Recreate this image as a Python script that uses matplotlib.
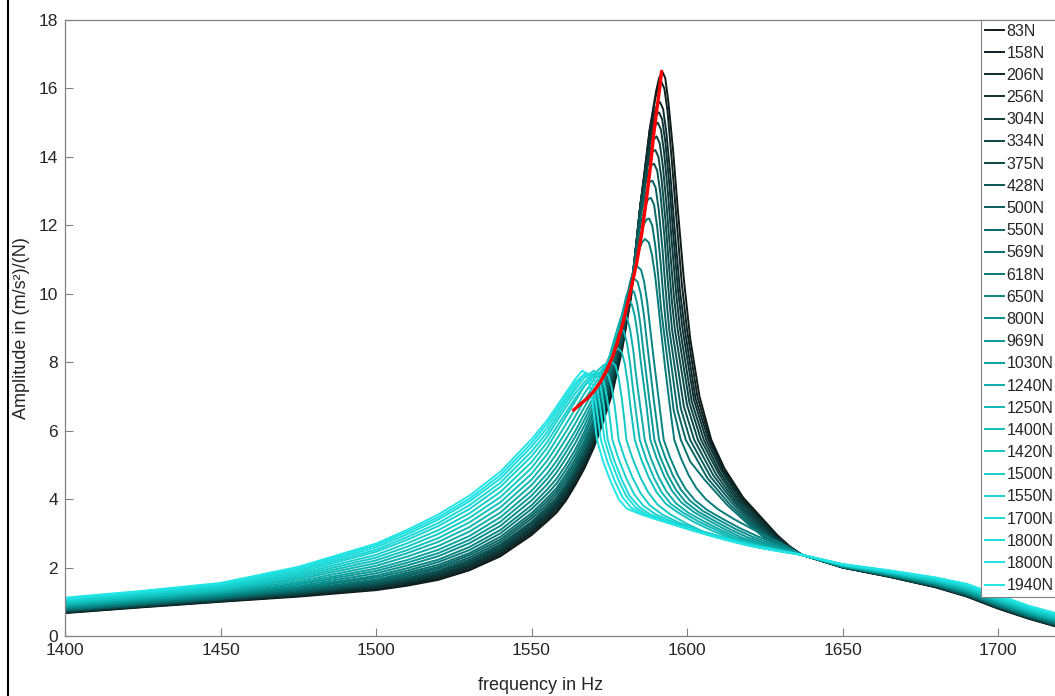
import matplotlib
matplotlib.use('Agg')
import matplotlib.pyplot as plt
from matplotlib.colors import LinearSegmentedColormap
from matplotlib.lines import Line2D

plt.rcParams['font.family'] = ['Liberation Sans', 'DejaVu Sans']

# legend labels (excitation force)
forces = ['83N', '158N', '206N', '256N', '304N', '334N', '375N', '428N', '500N',
          '550N', '569N', '618N', '650N', '800N', '969N', '1030N', '1240N', '1250N',
          '1400N', '1420N', '1500N', '1550N', '1700N', '1800N', '1800N', '1940N']

# low frequency part, shared grid
freq_low = [1400, 1425, 1450, 1475, 1500, 1510, 1520, 1530, 1540, 1550]
amp_low = [
    [0.67, 0.84, 1.00, 1.15, 1.34, 1.47, 1.64, 1.92, 2.33, 2.95],
    [0.68, 0.85, 1.01, 1.17, 1.37, 1.50, 1.68, 1.96, 2.38, 3.01],
    [0.69, 0.86, 1.02, 1.18, 1.39, 1.53, 1.72, 2.01, 2.43, 3.06],
    [0.70, 0.87, 1.03, 1.20, 1.42, 1.57, 1.76, 2.05, 2.48, 3.12],
    [0.71, 0.88, 1.04, 1.22, 1.45, 1.60, 1.79, 2.09, 2.53, 3.17],
    [0.72, 0.89, 1.06, 1.24, 1.48, 1.63, 1.83, 2.14, 2.58, 3.23],
    [0.72, 0.90, 1.07, 1.25, 1.50, 1.67, 1.87, 2.18, 2.63, 3.29],
    [0.73, 0.91, 1.08, 1.27, 1.53, 1.70, 1.91, 2.23, 2.68, 3.34],
    [0.75, 0.92, 1.09, 1.30, 1.57, 1.75, 1.97, 2.29, 2.75, 3.43],
    [0.76, 0.94, 1.11, 1.32, 1.61, 1.80, 2.02, 2.36, 2.82, 3.51],
    [0.77, 0.95, 1.13, 1.35, 1.65, 1.85, 2.08, 2.42, 2.90, 3.59],
    [0.79, 0.97, 1.15, 1.39, 1.71, 1.91, 2.16, 2.51, 3.00, 3.71],
    [0.81, 0.99, 1.17, 1.42, 1.76, 1.98, 2.23, 2.60, 3.10, 3.82],
    [0.83, 1.01, 1.20, 1.46, 1.83, 2.06, 2.33, 2.71, 3.22, 3.96],
    [0.86, 1.04, 1.23, 1.51, 1.90, 2.14, 2.42, 2.81, 3.34, 4.10],
    [0.88, 1.06, 1.25, 1.55, 1.97, 2.22, 2.52, 2.92, 3.47, 4.24],
    [0.90, 1.09, 1.29, 1.60, 2.05, 2.32, 2.63, 3.05, 3.61, 4.41],
    [0.93, 1.12, 1.32, 1.66, 2.13, 2.42, 2.75, 3.18, 3.76, 4.57],
    [0.96, 1.15, 1.35, 1.71, 2.21, 2.51, 2.86, 3.32, 3.91, 4.74],
    [0.99, 1.18, 1.39, 1.76, 2.29, 2.61, 2.98, 3.45, 4.06, 4.91],
    [1.01, 1.21, 1.42, 1.81, 2.37, 2.71, 3.09, 3.58, 4.21, 5.08],
    [1.04, 1.23, 1.45, 1.86, 2.46, 2.81, 3.21, 3.71, 4.36, 5.25],
    [1.06, 1.26, 1.48, 1.91, 2.52, 2.89, 3.30, 3.82, 4.48, 5.39],
    [1.08, 1.28, 1.51, 1.95, 2.59, 2.97, 3.40, 3.93, 4.60, 5.53],
    [1.10, 1.30, 1.53, 1.99, 2.65, 3.04, 3.47, 4.01, 4.70, 5.64],
    [1.12, 1.32, 1.55, 2.02, 2.70, 3.10, 3.55, 4.10, 4.80, 5.75],
]

# rising flank, shared grid (each curve stops before its peak)
freq_asc = [1555, 1558, 1561, 1564, 1567, 1570, 1573, 1576, 1579, 1582]
amp_asc = [
    [3.35, 3.60, 3.95, 4.40, 4.90, 5.50, 6.25, 7.10, 8.30, 9.90],
    [3.41, 3.66, 4.02, 4.47, 4.97, 5.57, 6.32, 7.18, 8.37, 9.94],
    [3.47, 3.73, 4.08, 4.53, 5.04, 5.65, 6.40, 7.26, 8.43, 9.97],
    [3.53, 3.79, 4.15, 4.60, 5.11, 5.72, 6.47, 7.33, 8.50, 10.01],
    [3.59, 3.85, 4.22, 4.67, 5.18, 5.80, 6.55, 7.41, 8.57, 10.05],
    [3.65, 3.91, 4.28, 4.73, 5.25, 5.87, 6.62, 7.49, 8.63, 10.09],
    [3.71, 3.98, 4.35, 4.80, 5.32, 5.94, 6.69, 7.57, 8.70, 10.12],
    [3.77, 4.04, 4.42, 4.87, 5.39, 6.02, 6.77, 7.65, 8.77, 10.16],
    [3.85, 4.14, 4.52, 4.97, 5.50, 6.13, 6.88, 7.76, 8.87, 10.22],
    [3.94, 4.23, 4.62, 5.07, 5.60, 6.24, 6.99, 7.88, 8.97, 10.27],
    [4.03, 4.32, 4.72, 5.17, 5.71, 6.35, 7.10, 7.99, 9.07, 10.33],
    [4.15, 4.45, 4.85, 5.30, 5.85, 6.50, 7.25, 8.15, 9.20, 10.40],
    [4.28, 4.59, 4.99, 5.44, 5.98, 6.61, 7.31, 8.25, 9.30, 10.45],
    [4.43, 4.77, 5.18, 5.63, 6.15, 6.74, 7.39, 8.30, 9.35, 10.30],
    [4.59, 4.94, 5.36, 5.81, 6.32, 6.87, 7.46, 8.35, 9.35],
    [4.74, 5.11, 5.53, 5.98, 6.49, 7.00, 7.54, 8.40, 9.30],
    [4.93, 5.32, 5.75, 6.20, 6.69, 7.17, 7.63, 8.40],
    [5.12, 5.53, 5.96, 6.41, 6.89, 7.33, 7.72],
    [5.31, 5.74, 6.18, 6.63, 7.09, 7.49, 7.81],
    [5.50, 5.95, 6.40, 6.85, 7.30, 7.65, 7.90],
    [5.66, 6.10, 6.52, 6.94, 7.32, 7.58],
    [5.82, 6.26, 6.68, 7.08, 7.42],
    [5.95, 6.38, 6.80, 7.20, 7.55],
    [6.08, 6.50, 6.90, 7.30],
    [6.20, 6.60, 7.00, 7.40],
    [6.30, 6.70, 7.10, 7.50],
]

# peak and falling flank, per curve
top_f = [
    [1585, 1588, 1590, 1591, 1592, 1593, 1594, 1595.5, 1597, 1599, 1601, 1604, 1607.8, 1612, 1618, 1624, 1629, 1633],
    [1585, 1588, 1590, 1591, 1591.7, 1592.7, 1593.7, 1595, 1596.5, 1598.3, 1600, 1603.3, 1607.4, 1611.7, 1617.7, 1623.7, 1628.8, 1633],
    [1585, 1588, 1589.5, 1590.5, 1591.3, 1592.3, 1593.3, 1594.6, 1596, 1597.7, 1599.3, 1602.7, 1606.9, 1611.4, 1617.4, 1623.4, 1628.6, 1633],
    [1585, 1588, 1589.5, 1590.3, 1591, 1592, 1593, 1594.3, 1595.6, 1597.1, 1598.6, 1602.2, 1606.2, 1611, 1617, 1623, 1628.4, 1633],
    [1585, 1588, 1589.5, 1590.6, 1591.6, 1592.6, 1593.9, 1595.1, 1596.5, 1597.8, 1601.5, 1605.4, 1610.5, 1616.5, 1622.5, 1628, 1633],
    [1585, 1588, 1589.2, 1590.2, 1591.2, 1592.2, 1593.5, 1594.6, 1595.8, 1597, 1600.8, 1604.5, 1610, 1616, 1622, 1627.6, 1633],
    [1585, 1587.5, 1588.8, 1589.8, 1590.8, 1591.8, 1593.1, 1594.1, 1595.1, 1596.1, 1600, 1603.5, 1609.2, 1615.5, 1621.5, 1627.2, 1633],
    [1585, 1587.3, 1588.4, 1589.4, 1590.4, 1591.4, 1592.7, 1593.5, 1594.4, 1595.2, 1599, 1602.3, 1608.4, 1615, 1621, 1626.8, 1633],
    [1585, 1587, 1588, 1588.9, 1589.9, 1590.9, 1592.1, 1592.9, 1593.6, 1594.3, 1598, 1601, 1607.5, 1614.3, 1620.5, 1626.4, 1633],
    [1585, 1586.5, 1587.5, 1588.4, 1589.4, 1590.4, 1591.5, 1592.3, 1592.9, 1593.4, 1596.9, 1599.6, 1606.5, 1613.6, 1620, 1626, 1633],
    [1585, 1586.2, 1587, 1587.8, 1588.8, 1589.8, 1590.8, 1591.6, 1592.5, 1595.7, 1598, 1601, 1605.5, 1613, 1619.5, 1625.5, 1633],
    [1584, 1585.5, 1586.5, 1587.7, 1588.7, 1589.7, 1590.5, 1591.6, 1593, 1594.7, 1595.9, 1598, 1600.5, 1603, 1606, 1610, 1615, 1620.5, 1626, 1631],
    [1583.2, 1584, 1585.2, 1586.2, 1587.2, 1588, 1589.2, 1590.7, 1592.5, 1594.5, 1597, 1599.5, 1602.5, 1606.5, 1611.5, 1617, 1622.5, 1628, 1633],
    [1582.9, 1584.1, 1585.1, 1586.1, 1586.9, 1588, 1589.3, 1591, 1593, 1595.5, 1598, 1601, 1605, 1610, 1615.5, 1621, 1627, 1632],
    [1580.5, 1581.8, 1583, 1584, 1585, 1585.8, 1586.8, 1588, 1589.5, 1591.5, 1594, 1596.5, 1599.5, 1603.5, 1608.5, 1614, 1619.5, 1626, 1632],
    [1580, 1581, 1582.2, 1583.2, 1584.2, 1585, 1586, 1587, 1588.2, 1590.2, 1592.7, 1595.2, 1598.2, 1602.2, 1607, 1612.5, 1618, 1625, 1631],
    [1577.5, 1578.5, 1579.5, 1580.7, 1581.7, 1582.7, 1583.5, 1584.5, 1585.5, 1586.4, 1588.4, 1590.9, 1593.4, 1596.4, 1600.4, 1605.4, 1611, 1617, 1624, 1630],
    [1575, 1576.5, 1577.5, 1578.5, 1579.7, 1580.7, 1581.7, 1582.5, 1583.5, 1584.8, 1586.8, 1589.3, 1591.8, 1594.8, 1598.8, 1603.8, 1609.8, 1616, 1623, 1630],
    [1575, 1576.5, 1577.8, 1579, 1580, 1581, 1581.8, 1583.2, 1585.2, 1587.7, 1590.2, 1593.2, 1597.2, 1602.2, 1608.2, 1615, 1622, 1630],
    [1574.5, 1575.8, 1577, 1578, 1579, 1579.8, 1580.5, 1582.5, 1585, 1587.5, 1590.5, 1594.5, 1599.5, 1605, 1611, 1617, 1623, 1628, 1632],
    [1572, 1573.5, 1574.7, 1575.7, 1576.7, 1577.4, 1578, 1580, 1582.5, 1585, 1588, 1592, 1597, 1603, 1609, 1615, 1621, 1626, 1631],
    [1569.5, 1571.5, 1572.7, 1573.7, 1574.7, 1575.4, 1576, 1578, 1580.5, 1583, 1586, 1590, 1595, 1600, 1606, 1612, 1618, 1624, 1630],
    [1570, 1571.2, 1572.2, 1573.2, 1573.9, 1574.5, 1576.5, 1579, 1581.5, 1584.5, 1588, 1593, 1598, 1603, 1608, 1613, 1619, 1625, 1630],
    [1566.5, 1568.8, 1570, 1571, 1572, 1572.8, 1573.5, 1575.5, 1578, 1580.5, 1583.5, 1587, 1592, 1597, 1602, 1607, 1612, 1618, 1624, 1630],
    [1567.5, 1568.7, 1569.7, 1570.7, 1571.5, 1572.3, 1574.3, 1576.8, 1579.3, 1582, 1586, 1590, 1595, 1600, 1605, 1610, 1615, 1620, 1625, 1630],
    [1566.3, 1567.5, 1568.5, 1569.5, 1570.3, 1571, 1573, 1575.5, 1578, 1580.6, 1585, 1590, 1595, 1600, 1605, 1610, 1615, 1620, 1625, 1630],
]
top_a = [
    [12.5, 14.8, 15.9, 16.3, 16.5, 16.3, 15.6, 14.2, 12.5, 10.4, 8.7, 7.0, 5.73, 4.9, 4.05, 3.45, 2.95, 2.62],
    [12.6, 14.8, 15.8, 16.1, 16.2, 16.0, 15.35, 14.0, 12.3, 10.3, 8.94, 7.0, 5.73, 4.88, 4.03, 3.44, 2.94, 2.61],
    [12.6, 14.65, 15.3, 15.55, 15.6, 15.4, 14.75, 13.5, 11.9, 10.1, 8.94, 6.95, 5.73, 4.86, 4.02, 3.43, 2.93, 2.6],
    [12.6, 14.5, 15.1, 15.25, 15.3, 15.1, 14.45, 13.2, 11.7, 10.1, 8.94, 6.9, 5.73, 4.84, 4.0, 3.42, 2.92, 2.6],
    [12.6, 14.35, 14.9, 15.0, 14.8, 14.15, 12.9, 11.5, 10.0, 8.94, 6.85, 5.73, 4.8, 3.98, 3.4, 2.91, 2.59],
    [12.6, 14.15, 14.5, 14.6, 14.4, 13.75, 12.5, 11.2, 9.9, 8.94, 6.8, 5.73, 4.77, 3.96, 3.38, 2.9, 2.58],
    [12.5, 13.8, 14.15, 14.2, 14.0, 13.35, 12.1, 10.9, 9.8, 8.94, 6.75, 5.73, 4.74, 3.94, 3.36, 2.89, 2.57],
    [12.4, 13.5, 13.75, 13.8, 13.6, 12.95, 11.7, 10.7, 9.7, 8.94, 6.7, 5.73, 4.7, 3.92, 3.34, 2.87, 2.56],
    [12.25, 13.05, 13.27, 13.3, 13.1, 12.45, 11.3, 10.35, 9.6, 8.94, 6.65, 5.73, 4.66, 3.9, 3.32, 2.86, 2.55],
    [12.0, 12.55, 12.77, 12.8, 12.6, 11.95, 10.9, 10.0, 9.4, 8.94, 6.6, 5.73, 4.62, 3.86, 3.3, 2.84, 2.54],
    [11.7, 12.05, 12.17, 12.2, 12.0, 11.4, 10.45, 9.6, 8.94, 6.6, 5.73, 5.1, 4.58, 3.82, 3.28, 2.82, 2.53],
    [11.15, 11.5, 11.6, 11.5, 11.15, 10.55, 9.9, 8.95, 7.8, 6.55, 5.73, 5.2, 4.7, 4.32, 4.0, 3.7, 3.42, 3.15, 2.9, 2.67],
    [10.72, 10.8, 10.7, 10.35, 9.75, 9.1, 8.15, 7.05, 5.73, 5.22, 4.7, 4.3, 3.97, 3.68, 3.42, 3.15, 2.92, 2.72, 2.56],
    [10.45, 10.35, 10.0, 9.4, 8.75, 7.9, 6.9, 5.73, 5.21, 4.68, 4.28, 3.95, 3.66, 3.4, 3.13, 2.9, 2.7, 2.55],
    [9.95, 10.15, 10.05, 9.7, 9.1, 8.45, 7.7, 6.8, 5.73, 5.2, 4.67, 4.26, 3.92, 3.64, 3.38, 3.11, 2.88, 2.68, 2.53],
    [9.62, 9.8, 9.7, 9.35, 8.75, 8.1, 7.4, 6.7, 5.73, 5.2, 4.66, 4.24, 3.9, 3.62, 3.37, 3.1, 2.86, 2.67, 2.52],
    [8.95, 9.25, 9.4, 9.3, 8.95, 8.35, 7.7, 7.0, 6.35, 5.73, 5.18, 4.64, 4.22, 3.88, 3.6, 3.35, 3.09, 2.84, 2.66, 2.51],
    [8.15, 8.65, 8.9, 9.0, 8.9, 8.55, 7.95, 7.3, 6.6, 5.73, 5.18, 4.63, 4.2, 3.86, 3.6, 3.34, 3.08, 2.82, 2.65, 2.5],
    [8.1, 8.32, 8.4, 8.3, 7.95, 7.35, 6.7, 5.73, 5.18, 4.63, 4.2, 3.86, 3.6, 3.33, 3.07, 2.82, 2.65, 2.5],
    [7.98, 8.0, 7.9, 7.55, 6.95, 6.35, 5.73, 5.18, 4.63, 4.2, 3.84, 3.56, 3.3, 3.06, 2.9, 2.76, 2.63, 2.54, 2.47],
    [7.7, 7.72, 7.62, 7.3, 6.75, 6.22, 5.73, 5.18, 4.62, 4.18, 3.82, 3.55, 3.33, 3.1, 2.92, 2.77, 2.64, 2.55, 2.47],
    [7.65, 7.68, 7.58, 7.25, 6.7, 6.2, 5.73, 5.17, 4.6, 4.14, 3.8, 3.55, 3.35, 3.19, 3.02, 2.87, 2.72, 2.6, 2.49],
    [7.75, 7.65, 7.3, 6.75, 6.2, 5.73, 5.15, 4.57, 4.1, 3.78, 3.56, 3.37, 3.22, 3.07, 2.93, 2.81, 2.68, 2.57, 2.48],
    [7.6, 7.65, 7.55, 7.25, 6.75, 6.2, 5.73, 5.13, 4.55, 4.08, 3.75, 3.55, 3.38, 3.23, 3.08, 2.95, 2.83, 2.69, 2.57, 2.48],
    [7.7, 7.6, 7.3, 6.8, 6.25, 5.73, 5.12, 4.52, 4.05, 3.75, 3.55, 3.42, 3.28, 3.14, 3.0, 2.87, 2.75, 2.64, 2.55, 2.47],
    [7.75, 7.68, 7.4, 6.9, 6.3, 5.75, 5.1, 4.5, 4.0, 3.72, 3.56, 3.41, 3.27, 3.13, 3.0, 2.87, 2.75, 2.64, 2.55, 2.47],
]

# high frequency tail, shared grid
freq_tail = [1637, 1650, 1665, 1680, 1690, 1700, 1710, 1720]
amp_tail = [
    [2.37, 2.00, 1.73, 1.42, 1.15, 0.80, 0.50, 0.24],
    [2.37, 2.00, 1.73, 1.43, 1.16, 0.81, 0.51, 0.25],
    [2.37, 2.00, 1.74, 1.43, 1.16, 0.82, 0.52, 0.26],
    [2.37, 2.01, 1.74, 1.44, 1.17, 0.82, 0.52, 0.26],
    [2.37, 2.01, 1.75, 1.44, 1.18, 0.83, 0.53, 0.27],
    [2.37, 2.01, 1.75, 1.45, 1.19, 0.84, 0.54, 0.28],
    [2.37, 2.01, 1.75, 1.45, 1.19, 0.85, 0.55, 0.29],
    [2.37, 2.01, 1.76, 1.46, 1.20, 0.86, 0.55, 0.29],
    [2.37, 2.02, 1.76, 1.47, 1.21, 0.87, 0.56, 0.31],
    [2.37, 2.02, 1.77, 1.48, 1.22, 0.88, 0.58, 0.32],
    [2.37, 2.02, 1.77, 1.49, 1.24, 0.89, 0.59, 0.33],
    [2.37, 2.03, 1.78, 1.50, 1.25, 0.91, 0.60, 0.35],
    [2.37, 2.03, 1.79, 1.51, 1.26, 0.92, 0.62, 0.36],
    [2.37, 2.04, 1.80, 1.52, 1.28, 0.94, 0.64, 0.38],
    [2.37, 2.04, 1.81, 1.54, 1.30, 0.96, 0.66, 0.40],
    [2.37, 2.05, 1.82, 1.55, 1.32, 0.98, 0.67, 0.42],
    [2.37, 2.05, 1.83, 1.57, 1.34, 1.01, 0.70, 0.44],
    [2.37, 2.06, 1.84, 1.59, 1.36, 1.03, 0.72, 0.47],
    [2.37, 2.06, 1.85, 1.61, 1.39, 1.06, 0.74, 0.49],
    [2.37, 2.07, 1.86, 1.62, 1.41, 1.08, 0.77, 0.51],
    [2.37, 2.08, 1.87, 1.64, 1.43, 1.10, 0.79, 0.54],
    [2.37, 2.08, 1.89, 1.66, 1.45, 1.13, 0.81, 0.56],
    [2.37, 2.09, 1.90, 1.67, 1.47, 1.15, 0.83, 0.58],
    [2.37, 2.09, 1.90, 1.69, 1.49, 1.17, 0.85, 0.60],
    [2.37, 2.10, 1.91, 1.70, 1.51, 1.18, 0.86, 0.61],
    [2.37, 2.10, 1.92, 1.71, 1.52, 1.20, 0.88, 0.63],
]

# backbone curve (red)
red_f = [1563.5, 1566, 1568, 1570, 1572, 1574.2, 1576, 1577.5, 1579.4, 1581.5,
         1583.8, 1585.5, 1587, 1588.2, 1589.2, 1590.3, 1591.2, 1591.8]
red_a = [6.6, 6.8, 6.95, 7.15, 7.4, 7.77, 8.15, 8.55, 9.15, 9.95,
         10.9, 11.8, 12.8, 13.7, 14.6, 15.4, 16.0, 16.5]

W, H = 1055, 696
fig = plt.figure(figsize=(W / 100, H / 100), dpi=100)
ax = fig.add_axes([65 / W, 60 / H, 990 / W, 616 / H])

cmap = LinearSegmentedColormap.from_list(
    'force', ['#0f1a1a', '#0a4c4c', '#068a88', '#12c8c4', '#22e6e6'])

n = len(forces)
for i in range(n):
    na = len(amp_asc[i])
    f = freq_low + freq_asc[:na] + top_f[i] + freq_tail
    a = amp_low[i] + amp_asc[i] + top_a[i] + amp_tail[i]
    ax.plot(f, a, color=cmap(i / (n - 1)), lw=1.4, label=forces[i])

ax.plot(red_f, red_a, color='#ff0000', lw=2.4, solid_capstyle='round', zorder=50)

ax.set_xlim(1400, 1718.3)
ax.set_ylim(0, 18)
ax.set_xticks([1400, 1450, 1500, 1550, 1600, 1650, 1700])
ax.set_yticks(range(0, 19, 2))

for side in ['left', 'bottom', 'top']:
    ax.spines[side].set_color('#808080')
    ax.spines[side].set_linewidth(0.9)
ax.spines['right'].set_visible(False)
ax.tick_params(direction='in', length=6, width=0.8, color='#808080',
               labelsize=12.5, labelcolor='#262626', pad=5)

ax.set_xlabel('frequency in Hz', fontsize=13, color='#262626')
ax.set_ylabel('Amplitude in (m/s²)/(N)', fontsize=13, color='#262626')
ax.xaxis.set_label_coords(0.48, -0.066)
ax.yaxis.set_label_coords(-0.035, 0.5)

leg = ax.legend(loc='upper left', bbox_to_anchor=(981 / W, 1 - 20 / H),
                bbox_transform=fig.transFigure, fontsize=11.5,
                handlelength=1.25, handletextpad=0.12, labelspacing=0.45,
                borderpad=0.22, borderaxespad=0, fancybox=False, framealpha=1)
leg.get_frame().set_edgecolor('#808080')
leg.get_frame().set_linewidth(0.8)
for t in leg.get_texts():
    t.set_color('#262626')

# border line on the left edge of the picture
fig.add_artist(Line2D([8 / W, 8 / W], [0, 1], color='black', lw=1.5,
                      transform=fig.transFigure))

fig.savefig('out.png', dpi=100)
